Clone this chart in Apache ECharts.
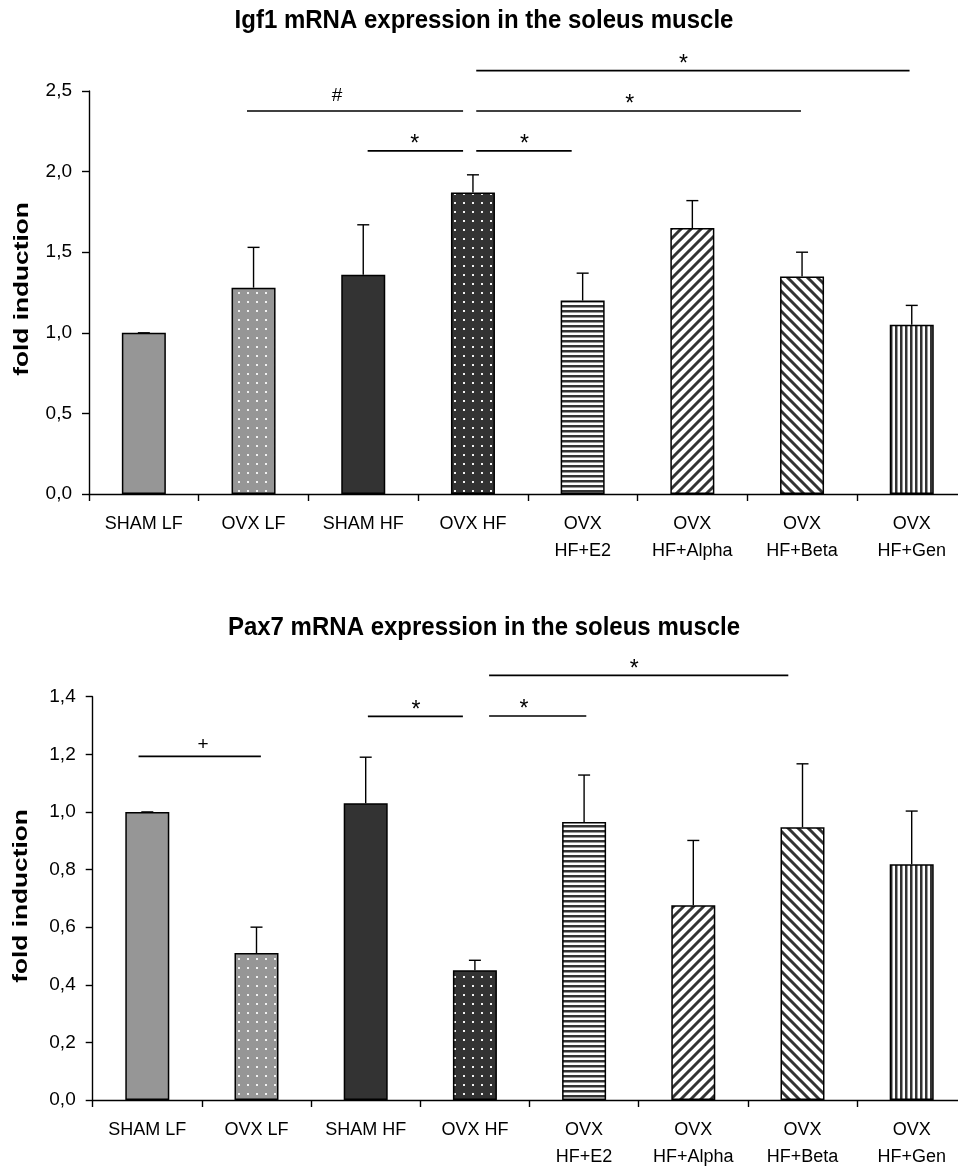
<!DOCTYPE html>
<html>
<head>
<meta charset="utf-8">
<script src="https://cdn.jsdelivr.net/npm/echarts@6/dist/echarts.min.js"></script>
<style>
html,body{margin:0;padding:0;background:#fff;}
#chart{width:958px;height:1169px;}
</style>
</head>
<body>
<div id="chart"></div>
<script>
// ---------- DATA ----------
const categories = ['SHAM LF', 'OVX LF', 'SHAM HF', 'OVX HF', 'OVX\nHF+E2', 'OVX\nHF+Alpha', 'OVX\nHF+Beta', 'OVX\nHF+Gen'];
const yName = 'fold induction';

const igf1Title = 'Igf1 mRNA expression in the soleus muscle';
const igf1Mean  = [1.00, 1.28, 1.36, 1.87, 1.20, 1.65, 1.35, 1.05];
const igf1Upper = [1.00, 1.53, 1.67, 1.98, 1.37, 1.82, 1.50, 1.17];
const igf1Ticks = [0, 0.5, 1.0, 1.5, 2.0, 2.5];
// significance brackets: [from (category units), to, y level, mark position], mark symbol
const igf1Brackets = [[0.94, 2.91, 2.376, 1.76], [2.04, 2.91, 2.128, 2.47], [3.03, 3.90, 2.128, 3.47], [3.03, 5.99, 2.376, 4.43], [3.03, 6.98, 2.626, 4.92]];
const igf1Marks = ['#', '*', '*', '*', '*'];

const pax7Title = 'Pax7 mRNA expression in the soleus muscle';
const pax7Mean  = [1.00, 0.51, 1.03, 0.45, 0.965, 0.676, 0.947, 0.818];
const pax7Upper = [1.00, 0.60, 1.19, 0.485, 1.128, 0.901, 1.167, 1.003];
const pax7Ticks = [0, 0.2, 0.4, 0.6, 0.8, 1.0, 1.2, 1.4];
const pax7Brackets = [[-0.08, 1.04, 1.193, 0.51], [2.02, 2.89, 1.332, 2.46], [3.13, 4.02, 1.333, 3.45], [3.13, 5.87, 1.474, 4.46]];
const pax7Marks = ['+', '*', '*', '*'];

// ---------- STYLE ----------
const FONT = "'Liberation Sans', Arial, sans-serif";
const LIGHT = '#969696', DARK = '#333333';

function mk(w, h, draw) {
  const c = document.createElement('canvas');
  c.width = w; c.height = h;
  const g = c.getContext('2d');
  draw(g, w, h);
  return { image: c, repeat: 'repeat' };
}
function dots(bg) {
  return mk(9, 9, (g) => {
    g.fillStyle = bg; g.fillRect(0, 0, 9, 9);
    g.fillStyle = '#f2f2f2'; g.fillRect(4, 4, 2, 2);
  });
}
const hStripes = mk(4, 5, (g) => {
  g.fillStyle = '#fff'; g.fillRect(0, 0, 4, 5);
  g.fillStyle = DARK; g.fillRect(0, 0, 4, 2);
  g.fillStyle = '#999'; g.fillRect(0, 2, 4, 1);
});
const vStripes = mk(5, 4, (g) => {
  g.fillStyle = '#fff'; g.fillRect(0, 0, 5, 4);
  g.fillStyle = DARK; g.fillRect(0, 0, 2, 4);
  g.fillStyle = '#999'; g.fillRect(2, 0, 1, 4);
});
function diag(up) {
  return mk(10, 10, (g) => {
    g.fillStyle = '#fff'; g.fillRect(0, 0, 10, 10);
    g.strokeStyle = DARK; g.lineWidth = 3;
    g.beginPath();
    if (up) {
      for (let k = -1; k <= 1; k++) { g.moveTo(-10 + k * 10, 20); g.lineTo(20 + k * 10, -10); }
    } else {
      for (let k = -1; k <= 1; k++) { g.moveTo(-10 + k * 10, -10); g.lineTo(20 + k * 10, 20); }
    }
    g.stroke();
  });
}
const fills = [LIGHT, dots(LIGHT), DARK, dots(DARK), hStripes, diag(true), diag(false), vStripes];

const fmt = (v) => v.toFixed(1).replace('.', ',');

function barData(vals) {
  return vals.map((v, i) => ({ value: v, itemStyle: { color: fills[i] } }));
}
function errData(mean, upper) {
  return mean.map((m, i) => [i, m, upper[i]]);
}
function errRender(params, api) {
  const p0 = api.coord([api.value(0), api.value(1)]);
  const p1 = api.coord([api.value(0), api.value(2)]);
  const st = { stroke: '#000', lineWidth: 1.4 };
  return {
    type: 'group', children: [
      { type: 'line', shape: { x1: p0[0], y1: p0[1], x2: p1[0], y2: p1[1] }, style: st },
      { type: 'line', shape: { x1: p1[0] - 6, y1: p1[1], x2: p1[0] + 6, y2: p1[1] }, style: st }
    ]
  };
}
const markOffset = { '*': 6, '#': 15, '+': 12 };
function bracketRender(marks) {
  return function (params, api) {
    const a = api.coord([api.value(0), api.value(2)]);
    const b = api.coord([api.value(1), api.value(2)]);
    const m = api.coord([api.value(3), api.value(2)]);
    const s = marks[params.dataIndex];
    return {
      type: 'group', children: [
        { type: 'line', shape: { x1: a[0], y1: a[1], x2: b[0], y2: b[1] }, style: { stroke: '#000', lineWidth: 1.7 } },
        { type: 'text', x: m[0], y: m[1] - markOffset[s], style: { text: s, fill: '#000', font: (s === '*' ? '23px ' : '19px ') + FONT, textAlign: 'center', textVerticalAlign: 'middle' } }
      ]
    };
  };
}

function xCat(gi) {
  return {
    type: 'category', gridIndex: gi, data: categories,
    axisLine: { onZero: false, lineStyle: { color: '#000', width: 1.4 } },
    axisTick: { show: true, length: 7, lineStyle: { color: '#000', width: 1.4 } },
    axisLabel: { interval: 0, margin: 17, color: '#000', fontFamily: FONT, fontSize: 18, lineHeight: 27 }
  };
}
function xVal(gi) {
  return { type: 'value', gridIndex: gi, min: -0.5, max: 7.5, show: false, splitLine: { show: false } };
}
function yVal(gi, ticks) {
  return {
    type: 'value', gridIndex: gi, min: ticks[0], max: ticks[ticks.length - 1], interval: ticks[1] - ticks[0],
    axisLine: { show: true, onZero: false, lineStyle: { color: '#000', width: 1.4 } },
    axisTick: { show: true, length: 7, lineStyle: { color: '#000', width: 1.4 } },
    axisLabel: { margin: 17, color: '#000', fontFamily: FONT, fontSize: 19, formatter: fmt },
    splitLine: { show: false }
  };
}
function titleText(text, y) {
  return { type: 'text', x: 484, y: y, scaleY: 1.04, style: { text: text, font: 'bold 24px ' + FONT, fill: '#000', textAlign: 'center', textVerticalAlign: 'middle' } };
}
function nameText(x, y) {
  return { type: 'text', x: x, y: y, rotation: Math.PI / 2, scaleX: 1.25, style: { text: yName, font: 'bold 21px ' + FONT, fill: '#000', textAlign: 'center', textVerticalAlign: 'middle' } };
}

const chart = echarts.init(document.getElementById('chart'), null, { renderer: 'canvas' });
chart.setOption({
  animation: false,
  backgroundColor: '#fff',
  graphic: [
    titleText(igf1Title, 21),
    titleText(pax7Title, 628),
    nameText(22, 289),
    nameText(21, 896)
  ],
  grid: [
    { left: 89, top: 91, width: 877.6, height: 403, outerBoundsMode: 'none', containLabel: false },
    { left: 92.7, top: 696.7, width: 873.6, height: 403.3, outerBoundsMode: 'none', containLabel: false }
  ],
  xAxis: [xCat(0), xVal(0), xCat(1), xVal(1)],
  yAxis: [yVal(0, igf1Ticks), yVal(1, pax7Ticks)],
  series: [
    { type: 'bar', xAxisIndex: 0, yAxisIndex: 0, barWidth: 44, data: barData(igf1Mean), itemStyle: { borderColor: '#000', borderWidth: 1.5 } },
    { type: 'custom', xAxisIndex: 0, yAxisIndex: 0, data: errData(igf1Mean, igf1Upper), renderItem: errRender, z: 5 },
    { type: 'custom', xAxisIndex: 1, yAxisIndex: 0, data: igf1Brackets, renderItem: bracketRender(igf1Marks), clip: false, z: 5 },
    { type: 'bar', xAxisIndex: 2, yAxisIndex: 1, barWidth: 44, data: barData(pax7Mean), itemStyle: { borderColor: '#000', borderWidth: 1.5 } },
    { type: 'custom', xAxisIndex: 2, yAxisIndex: 1, data: errData(pax7Mean, pax7Upper), renderItem: errRender, z: 5 },
    { type: 'custom', xAxisIndex: 3, yAxisIndex: 1, data: pax7Brackets, renderItem: bracketRender(pax7Marks), clip: false, z: 5 }
  ]
});
</script>
</body>
</html>
